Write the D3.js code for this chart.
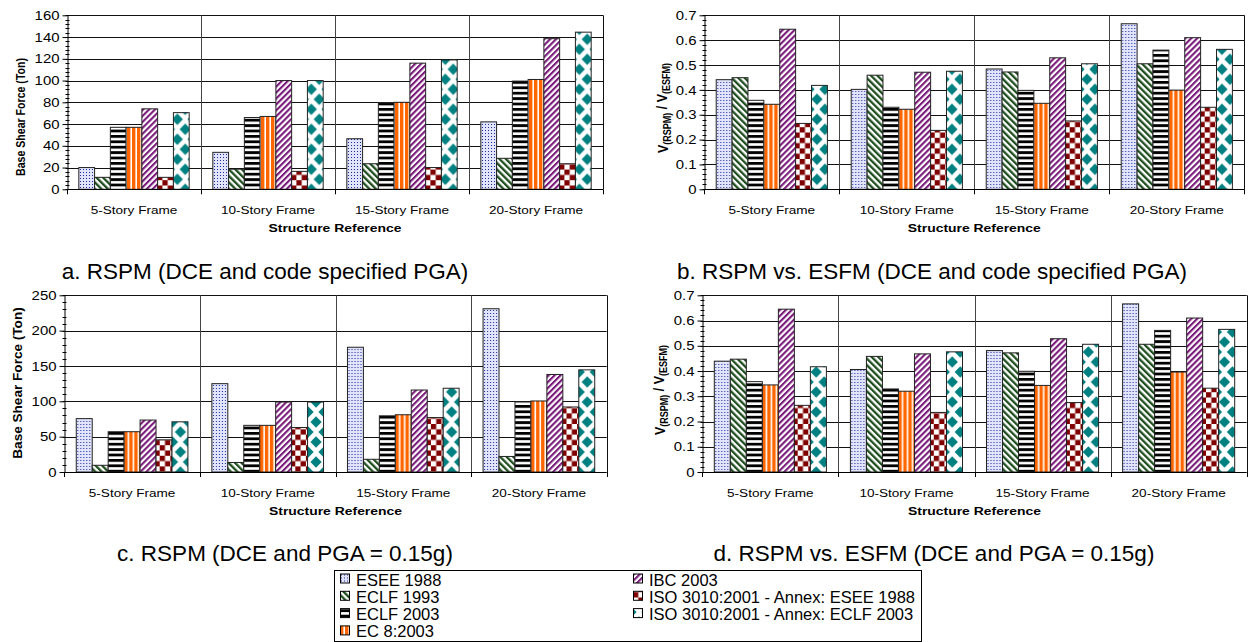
<!DOCTYPE html>
<html>
<head>
<meta charset="utf-8">
<script src="https://cdn.jsdelivr.net/npm/d3@7"></script>
<style>
  body { margin: 0; background: #fff; }
  svg text { font-family: Arial, "Liberation Sans", Helvetica, sans-serif; fill: #000; }
</style>
</head>
<body>
<div id="chart"></div>
<script>
// categories and series
const categories = ['5-Story Frame', '10-Story Frame', '15-Story Frame', '20-Story Frame'];
const seriesNames = [
  'ESEE 1988', 'ECLF 1993', 'ECLF 2003', 'EC 8:2003', 'IBC 2003',
  'ISO 3010:2001 - Annex: ESEE 1988', 'ISO 3010:2001 - Annex: ECLF 2003'
];

// a. base shear (Ton), DCE and code specified PGA - one row per series
const shearCodePGA = [
  [20, 34, 46.5, 62],
  [11, 18.5, 23.5, 28.5],
  [57, 66, 79.5, 99.5],
  [57, 67, 80, 101],
  [74, 100, 116, 138.5],
  [11, 16.5, 20, 23.5],
  [70.5, 100, 119, 144.5]
];
// b. V(RSPM) / V(ESFM), DCE and code specified PGA
const ratioCodePGA = [
  [0.441, 0.402, 0.484, 0.666],
  [0.449, 0.459, 0.472, 0.505],
  [0.358, 0.330, 0.398, 0.560],
  [0.342, 0.322, 0.346, 0.399],
  [0.644, 0.471, 0.529, 0.610],
  [0.265, 0.237, 0.275, 0.330],
  [0.418, 0.475, 0.505, 0.563]
];
// c. base shear (Ton), DCE and PGA = 0.15g
const shear015g = [
  [75.5, 125, 176.5, 231],
  [9.5, 13.5, 18, 22],
  [57, 66, 79.5, 99.5],
  [57, 66, 81, 100.5],
  [73.5, 99, 116, 138],
  [45.5, 63, 77, 92],
  [71, 99, 118.5, 144.5]
];
// d. V(RSPM) / V(ESFM), DCE and PGA = 0.15g
const ratio015g = [
  [0.439, 0.406, 0.481, 0.666],
  [0.447, 0.458, 0.472, 0.506],
  [0.358, 0.329, 0.399, 0.561],
  [0.345, 0.320, 0.343, 0.396],
  [0.645, 0.468, 0.528, 0.610],
  [0.264, 0.236, 0.275, 0.332],
  [0.417, 0.476, 0.506, 0.565]
];

const captions = [
  'a. RSPM (DCE and code specified PGA)',
  'b. RSPM vs. ESFM (DCE and code specified PGA)',
  'c. RSPM (DCE and PGA = 0.15g)',
  'd. RSPM vs. ESFM (DCE and PGA = 0.15g)'
];

// horizontal stretch of the chart texts
const SX = 1.18;
const TICK_SX = 1.15;

const svg = d3.select('#chart').append('svg')
  .attr('width', 1250)
  .attr('height', 642);

// PATTERNS
const defs = svg.append('defs');

function stripes(id, color, angle, period, thick) {
  const p = defs.append('pattern').attr('id', id)
    .attr('patternUnits', 'userSpaceOnUse')
    .attr('width', period).attr('height', period)
    .attr('patternTransform', `rotate(${angle})`);
  p.append('rect').attr('width', period).attr('height', period).attr('fill', '#fff');
  p.append('rect').attr('width', thick).attr('height', period).attr('fill', color);
}

// dotted (ESEE 1988)
const dots = defs.append('pattern').attr('id', 'pDots')
  .attr('patternUnits', 'userSpaceOnUse').attr('width', 3).attr('height', 3);
dots.append('rect').attr('width', 3).attr('height', 3).attr('fill', '#e2e4fb');
dots.append('rect').attr('x', 1).attr('y', 1).attr('width', 1).attr('height', 1).attr('fill', '#1a2a9a');

stripes('pGreen', '#1e4d1e', -45, 4.6, 2.3);
stripes('pHoriz', '#000', 90, 5.4, 2.8);
stripes('pOrange', '#ff6600', 0, 5, 3.4);
stripes('pPurple', '#7a1a7a', 45, 4.2, 2.1);

// checkerboard (ISO - ESEE 1988)
const chk = defs.append('pattern').attr('id', 'pCheck')
  .attr('patternUnits', 'userSpaceOnUse').attr('width', 10.6).attr('height', 10.6);
chk.append('rect').attr('width', 10.6).attr('height', 10.6).attr('fill', '#fff');
chk.append('rect').attr('width', 5.3).attr('height', 5.3).attr('fill', '#800000');
chk.append('rect').attr('x', 5.3).attr('y', 5.3).attr('width', 5.3).attr('height', 5.3).attr('fill', '#800000');

// diamonds (ISO - ECLF 2003), one pattern per bar so it stays centred
const diaColor = '#008080';
let diaCount = 0;
function diamondPattern(x, y, w) {
  const id = `pDia${diaCount++}`;
  const h = 20;
  const p = defs.append('pattern').attr('id', id)
    .attr('patternUnits', 'userSpaceOnUse')
    .attr('x', x).attr('y', y).attr('width', w).attr('height', h);
  p.append('rect').attr('width', w).attr('height', h).attr('fill', '#fff');
  const hw = 5.6;
  const hh = 5.8;
  [[w / 2, 0], [w / 2, h], [0, h / 2], [w, h / 2]].forEach(c => {
    p.append('polygon')
      .attr('points', `${c[0] - hw},${c[1]} ${c[0]},${c[1] - hh} ${c[0] + hw},${c[1]} ${c[0]},${c[1] + hh}`)
      .attr('fill', diaColor);
  });
  return `url(#${id})`;
}

const fills = ['url(#pDots)', 'url(#pGreen)', 'url(#pHoriz)', 'url(#pOrange)',
  'url(#pPurple)', 'url(#pCheck)', null];

// panel layout
const panels = [
  {data: shearCodePGA, x0: 67, x1: 603, y0: 15.3, y1: 189.3, max: 160, step: 20, minor: 4,
    fmt: d3.format('d'), ylabel: 'shear', ylx: 21, yly: 117, yfont: 10.6, ysx: SX,
    catY: 214, titleY: 232, capX: 265, capY: 279},
  {data: ratioCodePGA, x0: 704.3, x1: 1244.3, y0: 15.3, y1: 189.3, max: 0.7, step: 0.1, minor: 0.02,
    fmt: d => d === 0 ? '0' : d3.format('.1f')(d), ylabel: 'ratio', ylx: 663, yly: 108, yfont: 12.5, ysx: SX,
    catY: 214, titleY: 232, capX: 932, capY: 279},
  {data: shear015g, x0: 64.3, x1: 606.7, y0: 295.3, y1: 472, max: 250, step: 50, minor: 10,
    fmt: d3.format('d'), ylabel: 'shear', ylx: 18, yly: 383, yfont: 13.6, ysx: 0.9,
    catY: 497, titleY: 515, capX: 285, capY: 561},
  {data: ratio015g, x0: 702.3, x1: 1246.7, y0: 295.3, y1: 472, max: 0.7, step: 0.1, minor: 0.02,
    fmt: d => d === 0 ? '0' : d3.format('.1f')(d), ylabel: 'ratio', ylx: 660, yly: 390, yfont: 12.5, ysx: SX,
    catY: 497, titleY: 515, capX: 934, capY: 561}
];

function drawPanel(p, idx) {
  const g = svg.append('g').attr('class', `panel p${idx}`);

  const x = d3.scaleBand().domain(categories).range([p.x0, p.x1]).padding(0);
  const xs = d3.scaleBand().domain(d3.range(seriesNames.length))
    .range([0, x.bandwidth()]).paddingInner(0).paddingOuter(0.75);
  const y = d3.scaleLinear().domain([0, p.max]).range([p.y1, p.y0]);
  const majors = d3.range(0, p.max + p.step / 2, p.step);

  // horizontal gridlines
  g.append('g').selectAll('line')
    .data(majors.slice(1))
    .join('line')
    .attr('x1', p.x0).attr('x2', p.x1)
    .attr('y1', d => Math.round(y(d)) + 0.5).attr('y2', d => Math.round(y(d)) + 0.5)
    .attr('stroke', '#111').attr('stroke-width', 1);

  // category separators
  g.append('g').selectAll('line')
    .data(categories.slice(1))
    .join('line')
    .attr('x1', d => Math.round(x(d)) + 0.5).attr('x2', d => Math.round(x(d)) + 0.5)
    .attr('y1', p.y0).attr('y2', p.y1)
    .attr('stroke', '#444').attr('stroke-width', 1);

  // right border
  g.append('line')
    .attr('x1', Math.round(p.x1) + 0.5).attr('x2', Math.round(p.x1) + 0.5)
    .attr('y1', p.y0).attr('y2', p.y1)
    .attr('stroke', '#111');

  // bars
  const groups = g.append('g').selectAll('g')
    .data(categories)
    .join('g')
    .attr('transform', d => `translate(${x(d)},0)`);
  groups.selectAll('rect')
    .data((c, ci) => p.data.map((row, si) => ({si, ci, v: row[ci]})))
    .join('rect')
    .attr('x', d => xs(d.si))
    .attr('y', d => y(d.v))
    .attr('width', xs.bandwidth())
    .attr('height', d => y(0) - y(d.v))
    .attr('fill', d => fills[d.si] ||
      diamondPattern(x(categories[d.ci]) + xs(d.si), p.y1, xs.bandwidth()))
    .attr('stroke', '#222')
    .attr('stroke-width', 1);

  // x axis line and ticks
  g.append('line')
    .attr('x1', p.x0).attr('x2', p.x1)
    .attr('y1', Math.round(p.y1) + 0.5).attr('y2', Math.round(p.y1) + 0.5)
    .attr('stroke', '#000');
  g.append('g').selectAll('line')
    .data(d3.range(categories.length + 1))
    .join('line')
    .attr('x1', i => Math.round(p.x0 + i * x.step()) + 0.5)
    .attr('x2', i => Math.round(p.x0 + i * x.step()) + 0.5)
    .attr('y1', p.y1).attr('y2', p.y1 + 5)
    .attr('stroke', '#000');

  // y axis
  const yAxis = d3.axisLeft(y).tickValues(majors).tickSize(5).tickSizeOuter(0).tickFormat(p.fmt);
  const ga = g.append('g')
    .attr('transform', `translate(${Math.round(p.x0) + 0.5},0)`)
    .call(yAxis)
    .attr('font-size', null).attr('font-family', null);
  ga.select('.domain').attr('stroke', '#000');
  ga.selectAll('.tick line').attr('stroke', '#000');
  ga.selectAll('.tick text')
    .attr('x', -8 / TICK_SX)
    .attr('transform', `scale(${TICK_SX},1)`)
    .style('font-size', '13px');
  // minor ticks
  ga.append('g').selectAll('line')
    .data(d3.range(0, p.max + p.minor / 2, p.minor))
    .join('line')
    .attr('x1', -2).attr('x2', 2)
    .attr('y1', d => Math.round(y(d)) + 0.5).attr('y2', d => Math.round(y(d)) + 0.5)
    .attr('stroke', '#000');

  // category labels
  g.append('g').selectAll('text')
    .data(categories)
    .join('text')
    .attr('transform', d => `translate(${x(d) + x.bandwidth() / 2},${p.catY}) scale(${SX},1)`)
    .attr('text-anchor', 'middle')
    .style('font-size', '11.5px')
    .text(d => d);

  // axis titles
  g.append('text')
    .attr('transform', `translate(${(p.x0 + p.x1) / 2},${p.titleY}) scale(${SX},1)`)
    .attr('text-anchor', 'middle')
    .style('font-size', '11.8px')
    .style('font-weight', 'bold')
    .text('Structure Reference');

  const yl = g.append('text')
    .attr('transform', `translate(${p.ylx},${p.yly}) scale(${p.ysx},1) rotate(-90)`)
    .attr('text-anchor', 'middle')
    .attr('dy', '0.35em')
    .style('font-size', `${p.yfont}px`)
    .style('font-weight', 'bold');
  if (p.ylabel === 'shear') {
    yl.text('Base Shear Force (Ton)');
  } else {
    yl.append('tspan').text('V');
    yl.append('tspan').attr('dy', '0.3em').style('font-size', '0.72em').text('(RSPM)');
    yl.append('tspan').attr('dy', '-0.3em').text(' / V');
    yl.append('tspan').attr('dy', '0.3em').style('font-size', '0.72em').text('(ESFM)');
  }

  // caption
  svg.append('text')
    .attr('x', p.capX).attr('y', p.capY)
    .attr('text-anchor', 'middle')
    .style('font-size', '22.5px')
    .text(captions[idx]);
}

panels.forEach(drawPanel);

// LEGEND
const legend = svg.append('g').attr('class', 'legend');
legend.append('rect')
  .attr('x', 334.5).attr('y', 570.5).attr('width', 587).attr('height', 71)
  .attr('fill', '#fff').attr('stroke', '#000');
const rowH = 17.3;
const item = legend.selectAll('g.item')
  .data(seriesNames)
  .join('g')
  .attr('class', 'item')
  .attr('transform', (d, i) => i < 4
    ? `translate(340,${585.5 + i * rowH})`
    : `translate(633,${585.5 + (i - 4) * rowH})`);
item.append('rect')
  .attr('x', 0.5).attr('y', -11.5).attr('width', 9).attr('height', 9)
  .attr('fill', (d, i) => fills[i] || diamondPattern(-2, -18, 16))
  .attr('stroke', '#000');
item.append('text')
  .attr('x', 16)
  .style('font-size', '16.5px')
  .text(d => d);
</script>
</body>
</html>
